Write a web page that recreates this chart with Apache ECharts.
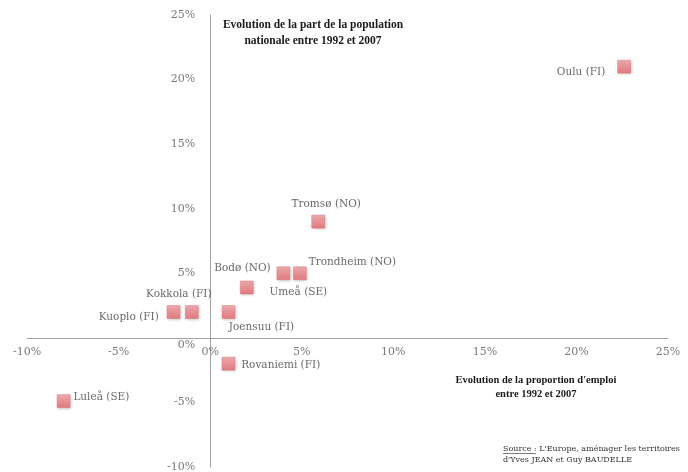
<!DOCTYPE html>
<html>
<head>
<meta charset="utf-8">
<script src="https://cdn.jsdelivr.net/npm/echarts@6/dist/echarts.min.js"></script>
<style>
  html, body { margin: 0; padding: 0; background: #fff; }
  #main { width: 688px; height: 472px; }
</style>
</head>
<body>
<div id="main"></div>
<script>
// villes et valeurs (%)
var villes = ["Oulu (FI)", "Tromsø (NO)", "Trondheim (NO)", "Bodø (NO)", "Umeå (SE)",
  "Kuoplo (FI)", "Kokkola (FI)", "Joensuu (FI)", "Rovaniemi (FI)", "Luleå (SE)"];
var emploi = [22.6, 5.9, 4.9, 4.0, 2.0, -2.0, -1.0, 1.0, 1.0, -8.0];
var population = [21.0, 9.0, 5.0, 5.0, 3.9, 2.0, 2.0, 2.0, -2.0, -4.9];
var ticks = [-10, -5, 0, 5, 10, 15, 20, 25];

// placement des étiquettes (style seulement)
var etiquettes = [
  { position: "left", distance: 12, offset: [0, 6] },
  { position: "top", distance: 5, offset: [8, 0] },
  { position: "right", distance: 2, offset: [0, -11] },
  { position: "left", distance: 6, offset: [0, -5] },
  { position: "right", distance: 16, offset: [0, 5] },
  { position: "left", distance: 8, offset: [0, 5] },
  { position: "top", distance: 6, offset: [-13, 0] },
  { position: "bottom", distance: 3, offset: [33, 0] },
  { position: "right", distance: 6, offset: [0, 2] },
  { position: "right", distance: 3, offset: [0, -4] }
];

var serif = "'DejaVu Serif', serif";
var times = "'Liberation Serif', serif";

var data = villes.map(function (v, i) {
  return {
    name: v,
    value: [emploi[i], population[i]],
    label: Object.assign({ show: true, formatter: "{b}" }, etiquettes[i])
  };
});

// grille : les axes se croisent en 0
var grid = { left: 27, right: 20, top: 15, bottom: 5 };
var W = 688 - grid.left - grid.right;
var H = 472 - grid.top - grid.bottom;
var xMin = ticks[0], xMax = ticks[ticks.length - 1];
var decalX = -H * (0 - xMin) / (xMax - xMin);
var decalY = -W * (0 - xMin) / (xMax - xMin);

var myChart = echarts.init(document.getElementById("main"));

var option = {
  animation: false,
  grid: Object.assign({ outerBoundsMode: "none", containLabel: false }, grid),
  title: [
    {
      text: "Evolution de la part de la population\nnationale entre 1992 et 2007",
      left: 313, top: 17, textAlign: "center", padding: 0,
      textStyle: { fontFamily: times, fontSize: 11.5, fontWeight: "bold", color: "#1a1a1a", lineHeight: 16 }
    },
    {
      text: "Evolution de la proportion d'emploi\nentre 1992 et 2007",
      left: 536, top: 373, textAlign: "center", padding: 0,
      textStyle: { fontFamily: times, fontSize: 10.5, fontWeight: "bold", color: "#1a1a1a", lineHeight: 14 }
    },
    {
      text: "Source : L'Europe, aménager les territoires\nd'Yves JEAN et Guy BAUDELLE",
      left: 503, top: 443, padding: 0,
      textStyle: { fontFamily: serif, fontSize: 8, fontWeight: "normal", color: "#333", lineHeight: 11 }
    }
  ],
  graphic: [
    { type: "line", shape: { x1: 503, y1: 453.5, x2: 536, y2: 453.5 }, style: { stroke: "#444", lineWidth: 0.7 } }
  ],
  xAxis: {
    type: "value", min: xMin, max: xMax, interval: 5,
    position: "bottom", offset: decalX,
    axisLine: { onZero: false, lineStyle: { color: "#a0a0a0" } },
    axisTick: { show: false },
    splitLine: { show: false },
    axisLabel: { formatter: "{value}%", fontFamily: serif, fontSize: 11, color: "#7a7a7a", margin: 9 }
  },
  yAxis: {
    type: "value", min: xMin, max: xMax, interval: 5,
    position: "left", offset: decalY,
    axisLine: { onZero: false, lineStyle: { color: "#a0a0a0" } },
    axisTick: { show: false },
    splitLine: { show: false },
    axisLabel: {
      fontFamily: serif, fontSize: 11, color: "#7a7a7a", margin: 15,
      formatter: function (v) { return v === 0 ? "{z|0%}" : v + "%"; },
      rich: { z: { fontFamily: serif, fontSize: 11, color: "#7a7a7a", padding: [14, 0, 0, 0] } }
    }
  },
  series: [{
    type: "scatter",
    symbol: "rect",
    symbolSize: 13,
    data: data,
    itemStyle: {
      color: new echarts.graphic.LinearGradient(0, 0, 0, 1, [
        { offset: 0, color: "#f5a0a3" },
        { offset: 1, color: "#e6656c" }
      ]),
      borderColor: "#dc6a70",
      borderWidth: 0.5,
      shadowColor: "rgba(0,0,0,0.28)",
      shadowBlur: 3,
      shadowOffsetX: 1,
      shadowOffsetY: 1
    },
    label: { fontFamily: serif, fontSize: 10.5, color: "#444" }
  }]
};

myChart.setOption(option);
</script>
</body>
</html>
